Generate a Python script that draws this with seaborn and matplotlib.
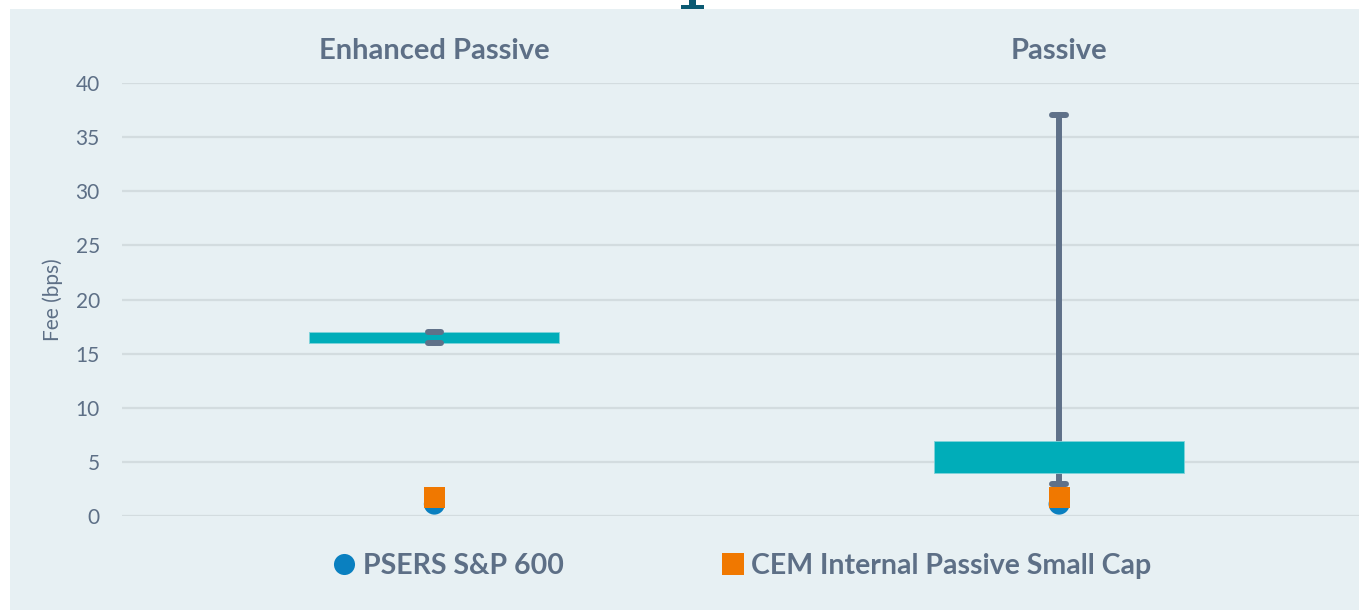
import pandas as pd
import matplotlib.pyplot as plt
import seaborn as sns
from matplotlib.patches import Rectangle

# fee ranges per mandate style (bps)
categories = ["Enhanced Passive", "Passive"]
range_low = [16.0, 4.0]
range_high = [17.0, 6.9]
whisker_low = [16.0, 3.0]
whisker_high = [17.0, 37.0]
psers_fee = [1.1, 1.1]
cem_fee = [1.75, 1.75]
series_names = ["PSERS S&P 600", "CEM Internal Passive Small Cap"]

BG = "#e7f0f3"
TEAL = "#00adb9"
SLATE = "#5f7189"
TEXT = "#5d6f86"

sns.set_theme(style="white")
plt.rcParams["font.family"] = ["Lato", "DejaVu Sans"]

W, H = 1359, 610
fig = plt.figure(figsize=(W / 100, H / 100), dpi=100, facecolor="white")


def px_rect(x0, y0, x1, y1, color, z):
    # rectangle given in pixels from the top-left corner
    fig.patches.append(Rectangle((x0 / W, 1 - y1 / H), (x1 - x0) / W, (y1 - y0) / H,
                                 transform=fig.transFigure, facecolor=color,
                                 edgecolor="none", zorder=z))


px_rect(10, 9, W, H, BG, -5)
# foot of the slide title glyph poking in from above
px_rect(689, 0, 696, 6, "#0b5a73", -4)
px_rect(681, 5, 704, 9, "#0b5a73", -4)

ax = fig.add_axes([122 / W, (H - 516) / H, (W - 122) / W, (516 - 83) / H])
ax.set_facecolor("none")

xpos = list(range(len(categories)))

# whiskers behind the range bars
ax.vlines(xpos, whisker_low, whisker_high, color=SLATE, lw=4.3, zorder=2,
          capstyle="round")
ax.bar(xpos, [h - l for l, h in zip(range_low, range_high)], bottom=range_low,
       width=0.4, color=TEAL, edgecolor="#7fd3da", linewidth=0.6, zorder=3)
for x, lo, hi in zip(xpos, whisker_low, whisker_high):
    for y in (lo, hi):
        ax.plot([x - 0.011, x + 0.011], [y, y], color=SLATE, lw=4.3,
                solid_capstyle="round", zorder=4)

pts = pd.DataFrame({
    "x": xpos + xpos,
    "fee": psers_fee + cem_fee,
    "series": [series_names[0]] * len(xpos) + [series_names[1]] * len(xpos),
})
sns.scatterplot(data=pts, x="x", y="fee", hue="series", style="series",
                palette=["#0a80c0", "#f07800"], markers=["o", "s"],
                s=230, linewidth=0, ax=ax, zorder=5, clip_on=False)

ax.set_xlim(-0.5, 1.48)
ax.set_ylim(0, 40)
ax.set_yticks(range(0, 41, 5))
ax.yaxis.grid(True, color="#d3dcdf", lw=1.6)
ax.set_axisbelow(True)
for s in ax.spines.values():
    s.set_visible(False)

ax.xaxis.tick_top()
ax.set_xticks(xpos)
ax.set_xticklabels(categories, fontsize=21, fontweight="bold", color=TEXT)
ax.tick_params(axis="x", length=0, pad=14)
ax.tick_params(axis="y", length=0, pad=16, labelsize=15, labelcolor=TEXT)
ax.set_xlabel("")
ax.set_ylabel("Fee (bps)", fontsize=15, color=TEXT, labelpad=9)

ax.legend(loc="center", bbox_to_anchor=(0.502, -0.115), ncol=2, frameon=False,
          prop={"size": 20.5, "weight": "bold"}, labelcolor=TEXT,
          handlelength=0.7, handletextpad=0.3, columnspacing=5.6,
          markerscale=1.0)

fig.savefig("out.png", dpi=100, facecolor="white")
